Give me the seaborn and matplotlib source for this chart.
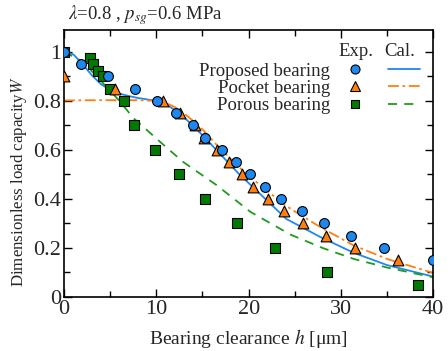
import numpy as np
import pandas as pd
import matplotlib
matplotlib.use("Agg")
import matplotlib.pyplot as plt
from matplotlib.legend_handler import HandlerTuple
from matplotlib.lines import Line2D
import seaborn as sns

prop_h = [0, 1.8, 4.8, 7.7, 10.1, 12.1, 14.0, 15.3, 17.1, 18.6, 20.2, 21.8, 23.5, 25.8, 28.2, 31.1, 34.7, 40.0]
prop_w = [1.0, 0.95, 0.9, 0.85, 0.8, 0.75, 0.7, 0.65, 0.6, 0.55, 0.5, 0.45, 0.4, 0.35, 0.3, 0.25, 0.2, 0.15]

pock_h = [0, 5.5, 10.7, 12.6, 14.2, 15.2, 16.6, 17.9, 19.3, 20.5, 22.1, 23.8, 25.9, 28.4, 31.5, 36.2]
pock_w = [0.9, 0.85, 0.8, 0.75, 0.7, 0.65, 0.6, 0.55, 0.5, 0.45, 0.4, 0.35, 0.3, 0.25, 0.2, 0.15]

poro_h = [0, 2.8, 3.1, 3.7, 4.2, 5.0, 6.5, 7.6, 9.9, 12.5, 15.3, 18.7, 22.9, 28.5, 38.3]
poro_w = [1.0, 0.975, 0.95, 0.92, 0.9, 0.85, 0.8, 0.7, 0.6, 0.5, 0.4, 0.3, 0.2, 0.1, 0.05]

# calculated curves
prop_cal_h = [0, 1, 2, 3, 4, 5, 6, 7, 8, 9, 10, 11, 12, 13, 14, 15, 16, 17, 18, 19, 20.5, 22, 24.1, 27.75, 31.4, 35, 40]
prop_cal_w = [1.0, 0.99, 0.95, 0.905, 0.868, 0.845, 0.83, 0.82, 0.812, 0.806, 0.8, 0.787, 0.763, 0.733, 0.697, 0.66, 0.62, 0.58, 0.54, 0.5, 0.447, 0.393, 0.318, 0.245, 0.18, 0.13, 0.083]

pock_cal_h = [0, 4, 8, 10, 11, 12, 12.9, 14, 15.1, 16.5, 18, 19.8, 21.8, 23.8, 25.8, 28, 31.4, 35, 40]
pock_cal_w = [0.802, 0.803, 0.803, 0.8, 0.792, 0.775, 0.752, 0.718, 0.68, 0.622, 0.565, 0.5, 0.44, 0.378, 0.33, 0.28, 0.21, 0.155, 0.098]

poro_cal_h = [0, 1.7, 3.2, 4.6, 6.1, 7.5, 9.3, 10.4, 12.9, 16.5, 20.2, 24.5, 28, 31.4, 35, 40]
poro_cal_w = [1.0, 0.967, 0.914, 0.857, 0.796, 0.73, 0.67, 0.633, 0.551, 0.457, 0.347, 0.255, 0.2, 0.155, 0.12, 0.08]

c_blue = "#1e88f0"
c_orange = "#ff7f0e"
c_green_pt = "#007a00"
c_green_ln = "#1f9a1f"

sns.set_style("ticks")
plt.rcParams["font.family"] = ["Liberation Serif", "DejaVu Serif"]
plt.rcParams["mathtext.fontset"] = "stix"
plt.rcParams["xtick.direction"] = "in"
plt.rcParams["ytick.direction"] = "in"

fig = plt.figure(figsize=(4.48, 3.51), dpi=100)
ax = fig.add_axes([0.143, 0.154, 0.824, 0.761])

sns.lineplot(x=prop_cal_h, y=prop_cal_w, ax=ax, color=c_blue, lw=1.3, zorder=2)
sns.lineplot(x=pock_cal_h, y=pock_cal_w, ax=ax, color=c_orange, lw=1.3, zorder=2)
sns.lineplot(x=poro_cal_h, y=poro_cal_w, ax=ax, color=c_green_ln, lw=1.3, zorder=2)
ax.lines[1].set_dashes([6, 2, 1.5, 2])
ax.lines[2].set_dashes([5, 4])

sns.scatterplot(x=poro_h, y=poro_w, ax=ax, marker="s", color=c_green_pt, s=48, edgecolor="black", linewidth=0.8, zorder=3)
sns.scatterplot(x=pock_h, y=pock_w, ax=ax, marker="^", color=c_orange, s=60, edgecolor="black", linewidth=0.8, zorder=4)
sns.scatterplot(x=prop_h, y=prop_w, ax=ax, marker="o", color=c_blue, s=50, edgecolor="black", linewidth=0.8, zorder=5)

ax.set_xlim(0, 40)
ax.set_ylim(0, 1.09)
ax.set_xticks([0, 10, 20, 30, 40])
ax.set_xticks([5, 15, 25, 35], minor=True)
ax.set_yticks([0, 0.2, 0.4, 0.6, 0.8, 1.0])
ax.set_yticklabels(["0", "0.2", "0.4", "0.6", "0.8", "1"])
ax.set_yticks(np.arange(0.1, 1.09, 0.2), minor=True)
ax.tick_params(which="both", top=True, right=True, labelsize=16, width=1.0, color="black")
ax.tick_params(which="major", length=6, pad=2)
ax.tick_params(which="minor", length=4)
for sp in ax.spines.values():
    sp.set_linewidth(1.2)
    sp.set_color("black")

ax.set_xlabel("Bearing clearance $h$ [μm]", fontsize=14, labelpad=6)
ax.set_ylabel("Dimensionless load capacity$W$", fontsize=12.2)
ax.yaxis.set_label_coords(-0.095, 0.43)
fig.text(0.152, 0.958, r"$\lambda$=0.8 , $p_{sg}$=0.6 MPa", fontsize=13.5, va="center")

def pair(col, mk, ms, ls):
    m = Line2D([], [], marker=mk, color=col, markeredgecolor="black", markeredgewidth=0.8, markersize=ms, linestyle="none")
    l = Line2D([], [], color=col, lw=1.3)
    if ls is not None:
        l.set_dashes(ls)
    return (m, l)

handles = [pair(c_blue, "o", 6.5, None), pair(c_orange, "^", 7, [6, 2, 1.5, 2]), pair(c_green_pt, "s", 6.2, [5, 4])]
handles[2][1].set_color(c_green_ln)
labels = ["Proposed bearing", "Pocket bearing", "Porous bearing"]
ax.legend(handles, labels, handler_map={tuple: HandlerTuple(ndivide=None, pad=0.9)},
          markerfirst=False, frameon=False, fontsize=13.5, handlelength=4.3,
          handletextpad=0.5, labelspacing=0.0, loc="upper right",
          bbox_to_anchor=(0.985, 0.905), borderaxespad=0)
ax.text(0.791, 0.95, "Exp.", transform=ax.transAxes, fontsize=13.5, va="top", ha="center")
ax.text(0.908, 0.95, "Cal.", transform=ax.transAxes, fontsize=13.5, va="top", ha="center")

fig.savefig("out.png", dpi=100)
